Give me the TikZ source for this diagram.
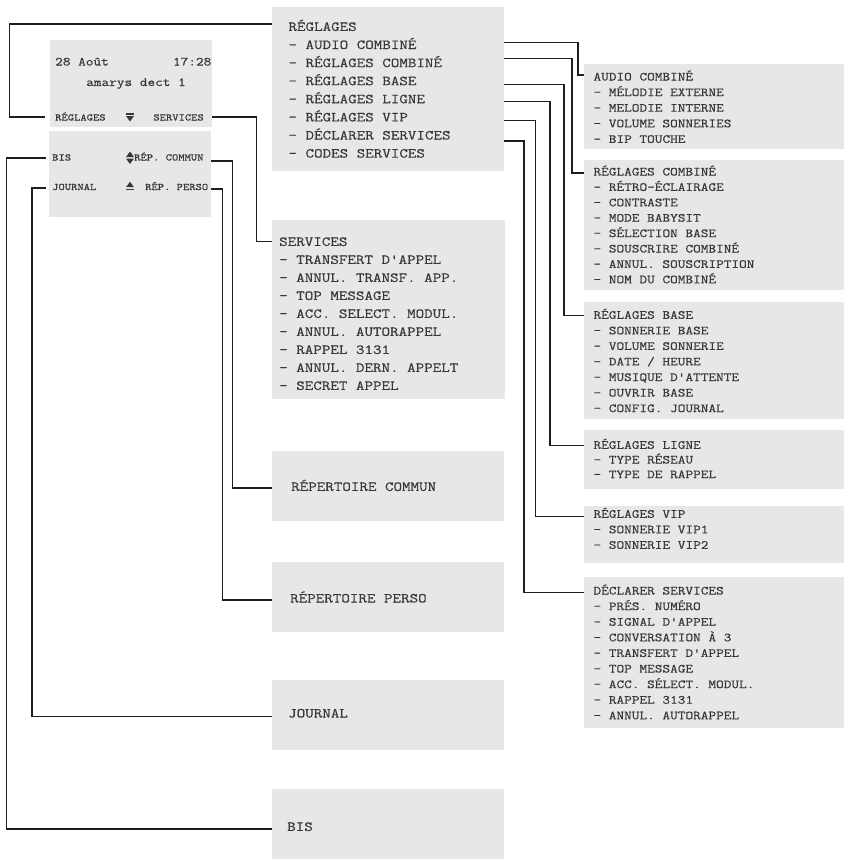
\documentclass[tikz,border=0pt]{standalone}
\usepackage{fontspec}
\setmonofont{Latin Modern Mono}[FakeStretch=1.2, FakeBold=0.4]
\definecolor{boxfill}{HTML}{E6E7E8}
\definecolor{txt}{HTML}{383838}
\definecolor{ln}{HTML}{1E1E1E}
\tikzset{
  box/.style={fill=boxfill, draw=none, inner sep=0pt, outer sep=0pt, anchor=north west},
  tbig/.style={font=\ttfamily\fontsize{13.8}{16}\selectfont, text=txt, inner sep=0pt, anchor=base west},
  tmid/.style={font=\ttfamily\fontsize{12.4}{14}\selectfont, text=txt, inner sep=0pt, anchor=base west},
  tsmall/.style={font=\ttfamily\fontsize{10}{12}\selectfont, text=txt, inner sep=0pt, anchor=base west},
  conn/.style={draw=ln, line width=1.2pt},
  sym/.style={fill=txt, draw=none}
}
\begin{document}
\begin{tikzpicture}[x=1pt, y=-1pt]
\useasboundingbox (0,0) rectangle (849,862);

% ---------- boxes ----------
\node[box, minimum width=162pt, minimum height=87pt] (scr) at (50,40) {};
\node[box, minimum width=162pt, minimum height=86pt] (keys) at (49,131) {};
\node[box, minimum width=232pt, minimum height=164pt] (reg) at (272,7) {};
\node[box, minimum width=233pt, minimum height=179pt] (serv) at (272,220) {};
\node[box, minimum width=232pt, minimum height=70pt] (repc) at (272,451) {};
\node[box, minimum width=232pt, minimum height=70pt] (repp) at (272,562) {};
\node[box, minimum width=232pt, minimum height=70pt] (jour) at (272,680) {};
\node[box, minimum width=232pt, minimum height=70pt] (bisb) at (272,789) {};
\node[box, minimum width=260pt, minimum height=85pt] (aud) at (584,64) {};
\node[box, minimum width=260pt, minimum height=130pt] (rcomb) at (584,160) {};
\node[box, minimum width=260pt, minimum height=117pt] (rbase) at (584,302) {};
\node[box, minimum width=260pt, minimum height=59pt] (rligne) at (584,430) {};
\node[box, minimum width=260pt, minimum height=57pt] (rvip) at (584,506) {};
\node[box, minimum width=260pt, minimum height=151pt] (decl) at (584,577) {};

% ---------- phone screen ----------
\node[tmid] (date) at (55,65.5) {28 Août};
\node[tmid, anchor=base east] (time) at (211.5,65.5) {17:28};
\node[tmid] (name) at (86,86) {amarys dect 1};
\node[tsmall] (kreg) at (55,120.5) {RÉGLAGES};
\node[tsmall, anchor=base east] (kserv) at (204,120.5) {SERVICES};
\node[tsmall] (kbis) at (52,160.5) {BIS};
\node[tsmall] (krepc) at (134,160.5) {RÉP. COMMUN};
\node[tsmall] (kjour) at (52,190) {JOURNAL};
\node[tsmall] (krepp) at (145,190) {RÉP. PERSO};
% key symbols
\fill[sym] (126,113.2) rectangle (134,114.6);
\fill[sym] (126,116) -- (134,116) -- (130,121.5) -- cycle;
\fill[sym] (126,157) -- (134,157) -- (130,151.5) -- cycle;
\fill[sym] (126,158.5) -- (134,158.5) -- (130,164) -- cycle;
\fill[sym] (126,187.2) -- (134,187.2) -- (130,181.8) -- cycle;
\fill[sym] (126,188.6) rectangle (134,190);

% ---------- menu texts ----------
\foreach \s [count=\i from 0] in {RÉGLAGES,- AUDIO COMBINÉ,- RÉGLAGES COMBINÉ,- RÉGLAGES BASE,- RÉGLAGES LIGNE,- RÉGLAGES VIP,- DÉCLARER SERVICES,- CODES SERVICES}
  \node[tbig] (regt\i) at (288.3,{30.9+18.1*\i}) {\s};
\foreach \s [count=\i from 0] in {SERVICES,- TRANSFERT D'APPEL,- ANNUL. TRANSF. APP.,- TOP MESSAGE,- ACC. SELECT. MODUL.,- ANNUL. AUTORAPPEL,- RAPPEL 3131,- ANNUL. DERN. APPELT,- SECRET APPEL}
  \node[tbig] (servt\i) at (279,{245.9+18*\i}) {\s};
\node[tbig] (repct) at (291,490.9) {RÉPERTOIRE COMMUN};
\node[tbig] (reppt) at (290,602.5) {RÉPERTOIRE PERSO};
\node[tbig] (jourt) at (288,717.5) {JOURNAL};
\node[tbig] (bist) at (287,830.9) {BIS};

\foreach \s [count=\i from 0] in {AUDIO COMBINÉ,- MÉLODIE EXTERNE,- MELODIE INTERNE,- VOLUME SONNERIES,- BIP TOUCHE}
  \node[tmid] (audt\i) at (593.3,{80.5+15.6*\i}) {\s};
\foreach \s [count=\i from 0] in {RÉGLAGES COMBINÉ,- RÉTRO-ÉCLAIRAGE,- CONTRASTE,- MODE BABYSIT,- SÉLECTION BASE,- SOUSCRIRE COMBINÉ,- ANNUL. SOUSCRIPTION,- NOM DU COMBINÉ}
  \node[tmid] (rcombt\i) at (593.3,{175.5+15.4*\i}) {\s};
\foreach \s [count=\i from 0] in {RÉGLAGES BASE,- SONNERIE BASE,- VOLUME SONNERIE,- DATE / HEURE,- MUSIQUE D'ATTENTE,- OUVRIR BASE,- CONFIG. JOURNAL}
  \node[tmid] (rbaset\i) at (593.3,{318.8+15.55*\i}) {\s};
\foreach \s [count=\i from 0] in {RÉGLAGES LIGNE,- TYPE RÉSEAU,- TYPE DE RAPPEL}
  \node[tmid] (rlignet\i) at (593.3,{448.8+14.7*\i}) {\s};
\foreach \s [count=\i from 0] in {RÉGLAGES VIP,- SONNERIE VIP1,- SONNERIE VIP2}
  \node[tmid] (rvipt\i) at (593.3,{517.8+15.5*\i}) {\s};
\foreach \s [count=\i from 0] in {DÉCLARER SERVICES,- PRÉS. NUMÉRO,- SIGNAL D'APPEL,- CONVERSATION À 3,- TRANSFERT D'APPEL,- TOP MESSAGE,- ACC. SÉLECT. MODUL.,- RAPPEL 3131,- ANNUL. AUTORAPPEL}
  \node[tmid] (declt\i) at (593.3,{594.5+15.6*\i}) {\s};

% ---------- connectors from phone ----------
\coordinate (eReg) at (45,117);
\coordinate (eBis) at (46,158);
\coordinate (eJour) at (46,188);
\draw[conn] (eReg) -- (9.5,117) |- (reg.west |- 0,24);
\draw[conn] (scr.east |- 0,117) -| (256.7,241.7) -- (serv.west |- 0,241.7);
\draw[conn] (keys.east |- 0,161) -| (232.7,488) -- (repc.west |- 0,488);
\draw[conn] (keys.east |- 0,189) -| (222.7,600) -- (repp.west |- 0,600);
\draw[conn] (eBis) -- (6.7,158) |- (bisb.west |- 0,829);
\draw[conn] (eJour) -- (32,188) |- (jour.west |- 0,716.7);

% ---------- connectors from REGLAGES ----------
\draw[conn] (reg.east |- 0,42.7) -| (578,75) -- (aud.west |- 0,75);
\draw[conn] (reg.east |- 0,58.3) -| (572,173) -- (rcomb.west |- 0,173);
\draw[conn] (reg.east |- 0,84.3) -| (564,315.7) -- (rbase.west |- 0,315.7);
\draw[conn] (reg.east |- 0,101.7) -| (550,445.7) -- (rligne.west |- 0,445.7);
\draw[conn] (reg.east |- 0,120.3) -| (535.7,516.7) -- (rvip.west |- 0,516.7);
\draw[conn] (reg.east |- 0,141) -| (524,592.3) -- (decl.west |- 0,592.3);
\end{tikzpicture}
\end{document}
